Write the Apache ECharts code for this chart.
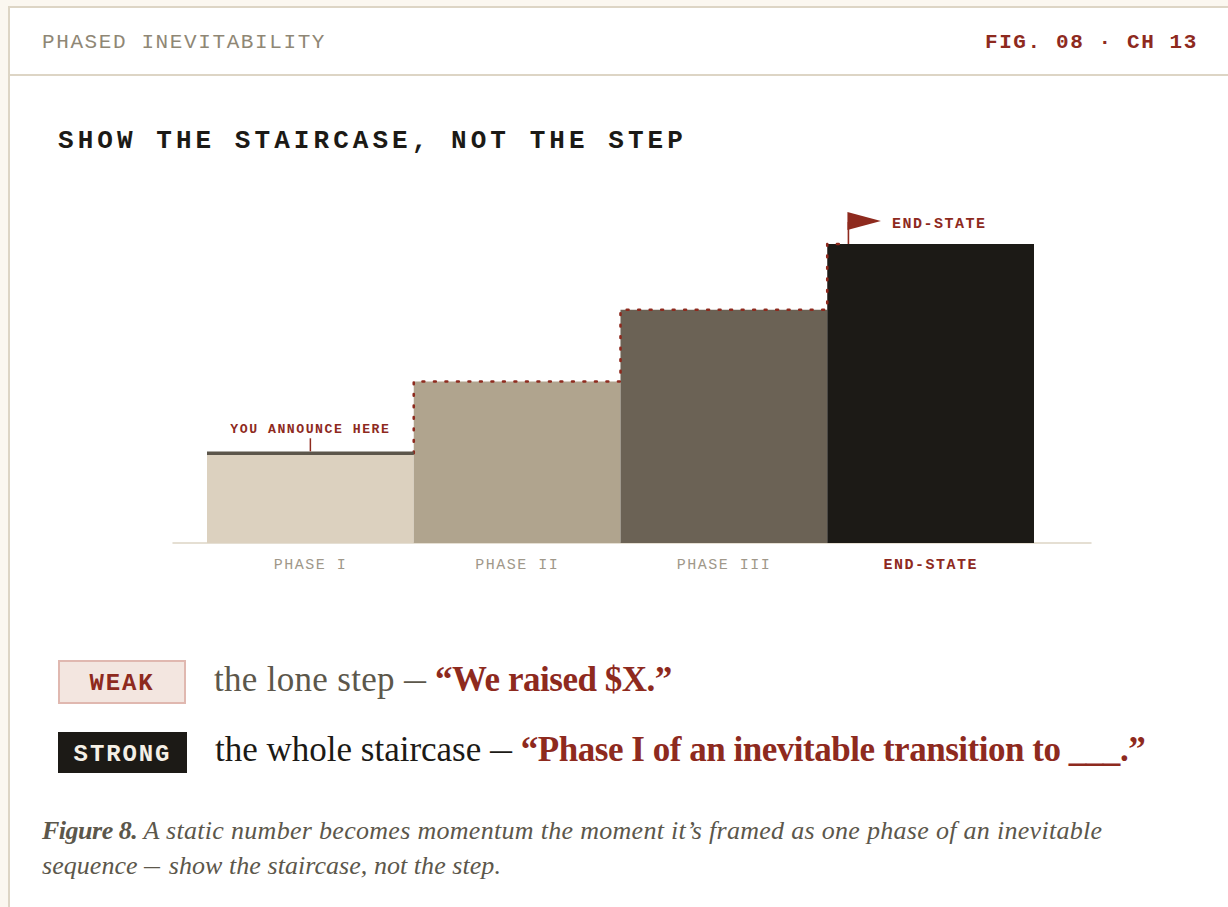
<!DOCTYPE html>
<html lang="en">
<head>
<meta charset="utf-8">
<title>Phased Inevitability</title>
<script src="https://cdn.jsdelivr.net/npm/echarts@6/dist/echarts.min.js"></script>
<style>
  html, body { margin: 0; padding: 0; background: #fbf7f0; }
  body { width: 1228px; height: 907px; position: relative; overflow: hidden; }
  .card { position: absolute; left: 8px; top: 6px; width: 1240px; height: 920px; background: #fff;
          border: 2px solid #ddd5c5; box-sizing: border-box; }
  .divider { position: absolute; left: 10px; right: 0; top: 74px; height: 2px; background: #ddd5c5; }
  .t { position: absolute; white-space: nowrap; line-height: 1; }
  .mono { font-family: "Liberation Mono", monospace; }
  .serif { font-family: "Liberation Serif", serif; }
  #eyebrow { left: 42px; top: 32px; font-size: 21px; letter-spacing: 1.6px; color: #8f8775; }
  #fig { right: 30px; top: 32px; font-size: 21px; font-weight: 700; letter-spacing: 1.6px; color: #8e2a1e; }
  #headline { left: 58px; top: 128px; font-size: 26px; font-weight: 700; letter-spacing: 4.05px; color: #1c1a16; }
  .badge { position: absolute; left: 58px; box-sizing: border-box; display: flex; align-items: center;
           justify-content: center; padding-top: 3px; font-size: 24px; font-weight: 700; letter-spacing: 1.9px; }
  #weak { top: 660px; width: 128px; height: 44px; background: #f3e6e0; border: 2px solid #e0b8b0; color: #8e2a1e; }
  #strong { top: 732px; width: 129px; height: 41px; background: #1c1a16; color: #f5f0e6; }
  .row { font-size: 35px; }
  .row b { color: #8e2a1e; font-weight: 700; letter-spacing: -0.47px; }
  .dash { display: inline-block; width: 22px; transform: scaleX(0.63); transform-origin: left center; }
  .note .dash { width: 18px; transform: scaleX(0.69); }
  #row1 { left: 214px; top: 662px; color: #5c574b; letter-spacing: 0.3px; }
  #row2 { left: 215px; top: 732px; color: #1c1a16; }
  .note { left: 42px; font-size: 26px; font-style: italic; color: #5c574b; }
  .note b { letter-spacing: -0.5px; }
  #note1 { top: 818px; letter-spacing: 0.3px; }
  #note2 { top: 853px; letter-spacing: 0.05px; }
  #chart { position: absolute; left: 0; top: 0; width: 1228px; height: 907px; }
  #chart text { letter-spacing: 1.5px; }
</style>
</head>
<body>
<div class="card"></div>
<div class="divider"></div>
<div class="t mono" id="eyebrow">PHASED INEVITABILITY</div>
<div class="t mono" id="fig">FIG. 08 · CH 13</div>
<div class="t mono" id="headline">SHOW THE STAIRCASE, NOT THE STEP</div>
<div id="chart"></div>
<div class="badge mono" id="weak">WEAK</div>
<div class="badge mono" id="strong">STRONG</div>
<div class="t serif row" id="row1">the lone step <span class="dash">—</span> <b>“We raised $X.”</b></div>
<div class="t serif row" id="row2">the whole staircase <span class="dash">—</span> <b>“Phase I of an inevitable transition to ___.”</b></div>
<div class="t serif note" id="note1"><b>Figure 8.</b> A static number becomes momentum the moment it’s framed as one phase of an inevitable</div>
<div class="t serif note" id="note2">sequence <span class="dash">—</span> show the staircase, not the step.</div>
<script>
const phases = ['PHASE I', 'PHASE II', 'PHASE III', 'END-STATE'];
const heights = [30, 54, 78, 100];
const barColors = ['#dcd1bf', '#b0a48e', '#6b6255', '#1c1a16'];
const RED = '#8e2a1e';
const MONO = '"Liberation Mono", monospace';

const chart = echarts.init(document.getElementById('chart'), null, { renderer: 'svg' });

// Dotted climb over the bars, plus the two annotations tied to the first and last phase.
function renderOverlay(params, api) {
  if (params.dataIndex !== 0) return null;
  const band = api.size([1, 0])[0];
  const left = i => api.coord([i, 0])[0] - band / 2;
  const top = i => api.coord([i, heights[i]])[1];
  const last = heights.length - 1;
  const poleX = left(last) + band * 0.1;

  const pts = [[left(1), top(0)]];
  for (let i = 1; i <= last; i++) {
    pts.push([left(i), top(i)]);
    pts.push(i < last ? [left(i + 1), top(i)] : [poleX, top(i)]);
  }
  const firstTop = top(0), lastTop = top(last), mid0 = left(0) + band / 2;

  return {
    type: 'group',
    children: [
      { type: 'polyline', shape: { points: pts },
        style: { fill: 'none', stroke: RED, lineWidth: 2.6, lineCap: 'round', lineDash: [1.8, 9.7] } },
      { type: 'line', shape: { x1: left(0), y1: firstTop, x2: left(1), y2: firstTop },
        style: { stroke: '#5c564b', lineWidth: 3.5 } },
      { type: 'line', shape: { x1: mid0, y1: firstTop - 15, x2: mid0, y2: firstTop - 2 },
        style: { stroke: RED, lineWidth: 1.5 } },
      { type: 'text',
        style: { x: mid0, y: firstTop - 23.5, text: 'YOU ANNOUNCE HERE', fill: RED, align: 'center',
                 verticalAlign: 'middle', font: '700 13.2px ' + MONO } },
      { type: 'line', shape: { x1: poleX + 0.5, y1: lastTop - 22, x2: poleX + 0.5, y2: lastTop },
        style: { stroke: RED, lineWidth: 1.6 } },
      { type: 'polygon',
        shape: { points: [[poleX - 0.5, lastTop - 32], [poleX + 33, lastTop - 23], [poleX - 0.5, lastTop - 14]] },
        style: { fill: RED } },
      { type: 'text',
        style: { x: poleX + 44, y: lastTop - 20, text: 'END-STATE', fill: RED, align: 'left',
                 verticalAlign: 'middle', font: '700 15px ' + MONO } }
    ]
  };
}

chart.setOption({
  animation: false,
  grid: [
    { left: 207, width: 827, top: 244, height: 299 },
    { left: 173, width: 918, top: 244, height: 299 }
  ],
  xAxis: [
    {
      type: 'category', gridIndex: 0, data: phases.map((name, i) => ({
        value: name,
        textStyle: i === phases.length - 1 ? { color: RED, fontWeight: 700 } : {}
      })),
      axisLine: { show: false }, axisTick: { show: false },
      axisLabel: { color: '#a0988a', fontFamily: MONO, fontSize: 15, margin: 15, interval: 0 }
    },
    {
      type: 'category', gridIndex: 1, data: [''],
      axisLine: { show: true, lineStyle: { color: '#ddd5c5', width: 1.5 } },
      axisTick: { show: false }, axisLabel: { show: false }
    }
  ],
  yAxis: [
    { type: 'value', gridIndex: 0, min: 0, max: 100, show: false },
    { type: 'value', gridIndex: 1, min: 0, max: 100, show: false }
  ],
  series: [
    {
      type: 'bar', barWidth: '100%', z: 3, silent: true,
      data: heights.map((v, i) => ({ value: v, itemStyle: { color: barColors[i] } }))
    },
    {
      type: 'custom', z: 5, silent: true, renderItem: renderOverlay,
      encode: { x: 0, y: 1 },
      data: heights.map((v, i) => [i, v])
    }
  ]
});
</script>
</body>
</html>
